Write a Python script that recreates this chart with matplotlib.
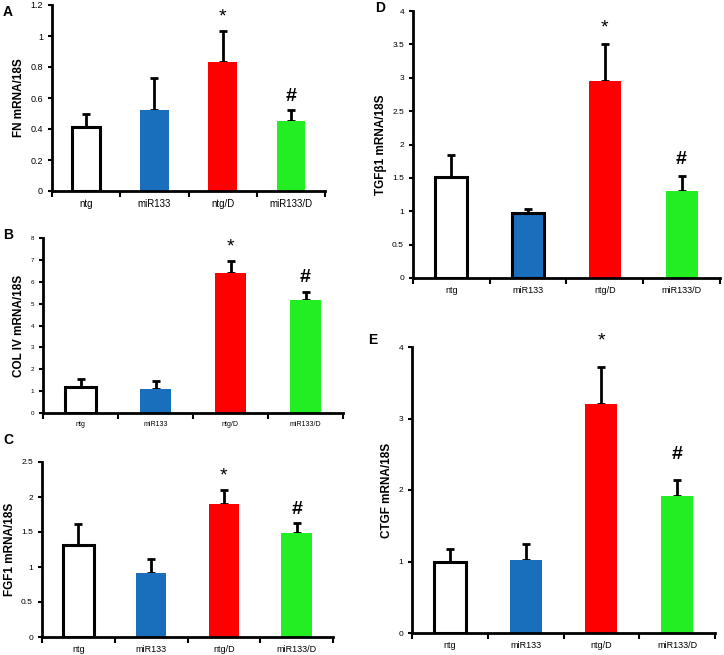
import numpy as np
import matplotlib
matplotlib.use('Agg')
import matplotlib.pyplot as plt

plt.rcParams['font.family'] = ['Liberation Sans', 'DejaVu Sans']

groups = ['ntg', 'miR133', 'ntg/D', 'miR133/D']
colors = ['white', '#1a6fbd', '#ff0000', '#22ee22']

fn_vals = [0.41, 0.52, 0.83, 0.45]
fn_err = [0.085, 0.21, 0.20, 0.07]

col4_vals = [1.2, 1.1, 6.4, 5.15]
col4_err = [0.35, 0.37, 0.57, 0.40]

fgf1_vals = [1.32, 0.92, 1.90, 1.48]
fgf1_err = [0.29, 0.19, 0.20, 0.15]

tgfb_vals = [1.52, 0.98, 2.95, 1.30]
tgfb_err = [0.33, 0.05, 0.55, 0.23]

ctgf_vals = [1.0, 1.02, 3.2, 1.92]
ctgf_err = [0.17, 0.23, 0.52, 0.22]

marks = ['', '', '*', '#']

W, H = 724, 655
fig = plt.figure(figsize=(W / 100, H / 100), dpi=100)


def px_axes(left, top, right, bottom):
    return fig.add_axes([left / W, 1 - bottom / H, (right - left) / W, (bottom - top) / H])


def panel(ax, vals, errs, ymax, ystep, ylabel, letter, tick_fs, label_fs,
          edge_blue=False, mark_fs=14, mark_pad=0.03):
    x = np.arange(len(groups)) + 0.5
    for i, (v, e) in enumerate(zip(vals, errs)):
        ec = 'black' if (i == 0 or (i == 1 and edge_blue)) else colors[i]
        lw = 2.2 if ec == 'black' else 0
        ax.bar(x[i], v, width=0.42, color=colors[i], edgecolor=ec, linewidth=lw, zorder=2)
        ax.errorbar(x[i], v, yerr=[[0], [e]], fmt='none', ecolor='black',
                    elinewidth=2, capsize=3, capthick=2, zorder=1)
        if marks[i]:
            ax.text(x[i], v + e + ymax * mark_pad, marks[i], ha='center', va='bottom',
                    fontsize=mark_fs, fontweight='bold' if marks[i] == '#' else 'normal')
    ax.set_xlim(0, 4)
    ax.set_ylim(0, ymax)
    ax.set_yticks(np.arange(0, ymax + ystep / 2, ystep))
    ax.set_yticklabels(['%g' % t for t in np.arange(0, ymax + ystep / 2, ystep)])
    ax.set_xticks(x)
    ax.set_xticklabels(groups)
    ax.set_xticks(np.arange(0, 5), minor=True)
    ax.tick_params(axis='x', which='major', length=0, labelsize=tick_fs + 0.5, pad=6)
    ax.tick_params(axis='x', which='minor', length=4, width=1.5, direction='out')
    ax.tick_params(axis='y', length=3, width=1.5, labelsize=tick_fs, direction='out')
    for s in ['top', 'right']:
        ax.spines[s].set_visible(False)
    for s in ['left', 'bottom']:
        ax.spines[s].set_linewidth(2)
    ax.set_ylabel(ylabel, fontsize=label_fs, fontweight='bold')
    return ax


axA = px_axes(52, 5, 325, 191)
panel(axA, fn_vals, fn_err, 1.2, 0.2, 'FN mRNA/18S', 'A', 6.5, 8.5)
fig.text(3 / W, 1 - 12 / H, 'A', fontsize=10, fontweight='bold', va='center')

axB = px_axes(43, 238, 343, 413)
panel(axB, col4_vals, col4_err, 8, 1, 'COL IV mRNA/18S', 'B', 4.5, 8.5)
fig.text(3 / W, 1 - 235 / H, 'B', fontsize=10, fontweight='bold', va='center')

axC = px_axes(42, 462, 333, 637)
panel(axC, fgf1_vals, fgf1_err, 2.5, 0.5, 'FGF1 mRNA/18S', 'C', 6, 8.5)
fig.text(3 / W, 1 - 440 / H, 'C', fontsize=10, fontweight='bold', va='center')

axD = px_axes(413, 11, 720, 278)
panel(axD, tgfb_vals, tgfb_err, 4, 0.5, 'TGF\u03b21 mRNA/18S', 'D', 6, 8.5, edge_blue=True)
fig.text(375 / W, 1 - 8 / H, 'D', fontsize=10, fontweight='bold', va='center')

axE = px_axes(412, 347, 715, 633)
panel(axE, ctgf_vals, ctgf_err, 4, 1, 'CTGF mRNA/18S', 'E', 6, 8.5, mark_pad=0.06)
fig.text(368 / W, 1 - 340 / H, 'E', fontsize=10, fontweight='bold', va='center')

fig.savefig('out.png', dpi=100)
